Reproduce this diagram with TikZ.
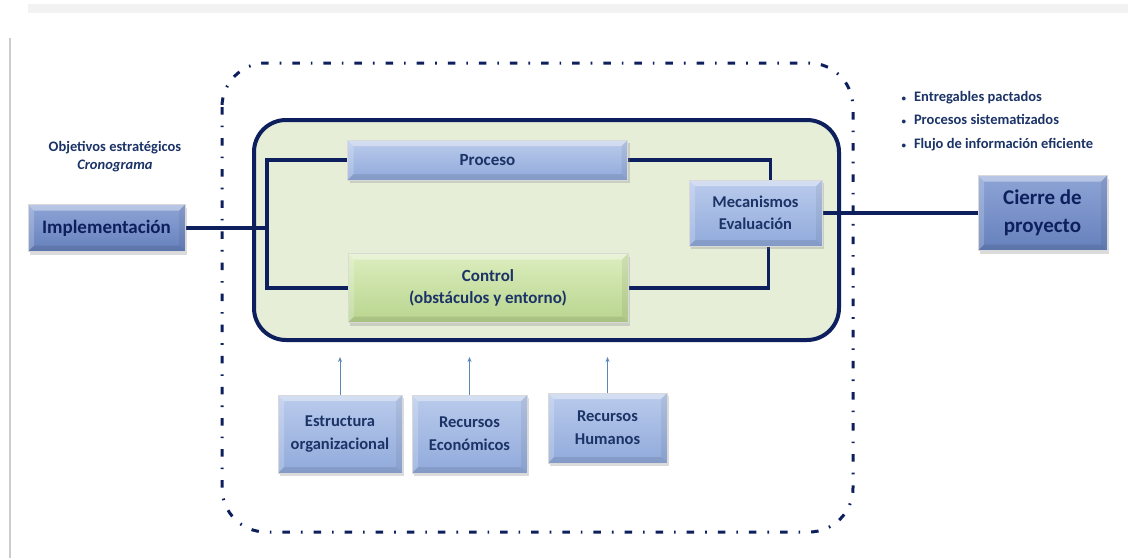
\documentclass[tikz,border=0pt]{standalone}
\usepackage{fontspec}
\setmainfont{Carlito}
\usetikzlibrary{shadows,arrows.meta,backgrounds}

\pgfdeclarelayer{bottom}
\pgfsetlayers{bottom,background,main}

\definecolor{navy}{HTML}{0E1F5E}
\definecolor{txtnavy}{HTML}{1B3366}
\definecolor{bluetop}{HTML}{BACBEC}
\definecolor{bluebot}{HTML}{91AADB}
\definecolor{darktop}{HTML}{8EA4D6}
\definecolor{darkbot}{HTML}{6580BC}
\definecolor{greentop}{HTML}{DCEDBE}
\definecolor{greenbot}{HTML}{B8D58E}
\definecolor{panel}{HTML}{E6EED8}
\definecolor{thinarrow}{HTML}{5B87B8}

\tikzset{
  bevel/.style={path picture={
    \fill[white,opacity=0.38]
      (path picture bounding box.north west) -- (path picture bounding box.north east)
      -- ([shift={(-6pt,-6pt)}]path picture bounding box.north east)
      -- ([shift={(6pt,-6pt)}]path picture bounding box.north west) -- cycle;
    \fill[white,opacity=0.2]
      (path picture bounding box.north west) -- (path picture bounding box.south west)
      -- ([shift={(6pt,6pt)}]path picture bounding box.south west)
      -- ([shift={(6pt,-6pt)}]path picture bounding box.north west) -- cycle;
    \fill[black,opacity=0.09]
      (path picture bounding box.south west) -- (path picture bounding box.south east)
      -- ([shift={(-6pt,6pt)}]path picture bounding box.south east)
      -- ([shift={(6pt,6pt)}]path picture bounding box.south west) -- cycle;
    \fill[black,opacity=0.06]
      (path picture bounding box.north east) -- (path picture bounding box.south east)
      -- ([shift={(-6pt,6pt)}]path picture bounding box.south east)
      -- ([shift={(-6pt,-6pt)}]path picture bounding box.north east) -- cycle;
  }},
  boxbase/.style={bevel, draw=white!70!gray, line width=0.4pt, align=center,
    text=txtnavy, font=\bfseries, inner sep=2pt,
    drop shadow={shadow xshift=2pt, shadow yshift=-3pt, opacity=0.28, fill=gray}},
  bluebox/.style={boxbase, top color=bluetop, bottom color=bluebot},
  darkbox/.style={boxbase, top color=darktop, bottom color=darkbot, text=navy},
  greenbox/.style={boxbase, top color=greentop, bottom color=greenbot},
  conn/.style={draw=navy, line width=3.8pt},
  feed/.style={draw=thinarrow, line width=0.9pt, -{Stealth[length=5pt,width=4pt]}},
  note/.style={text=txtnavy, font=\bfseries\fontsize{14.5}{18}\selectfont, align=center},
}

\begin{document}
\begin{tikzpicture}[x=1pt,y=-1pt]
  \useasboundingbox (0,0) rectangle (1128,558);
  \begin{pgfonlayer}{bottom}
    \fill[white] (0,0) rectangle (1128,558);
    % faint page frame
    \fill[black!5] (28,4) rectangle (1128,13);
    \draw[black!20, line width=2pt] (10,38) -- (10,558);
    % outer dash-dotted boundary
    \draw[navy, line width=3pt, rounded corners=44,
          dash pattern=on 7.5pt off 11pt on 1.6pt off 11pt]
      (222,63) rectangle (853,532);
    % inner panel
    \draw[navy, line width=4pt, fill=panel, rounded corners=32]
      (254,120) rectangle (839,340);
  \end{pgfonlayer}

  % boxes
  \node[darkbox, minimum width=157pt, minimum height=47pt,
        font=\bfseries\fontsize{19}{22}\selectfont] (impl) at (106.5,228) {Implementación};
  \node[bluebox, minimum width=280pt, minimum height=40pt,
        font=\bfseries\fontsize{17}{20}\selectfont] (proc) at (487.5,160) {Proceso};
  \node[greenbox, minimum width=280pt, minimum height=69pt,
        font=\bfseries\fontsize{17}{22}\selectfont] (ctrl) at (488,288) {Control\\(obstáculos y entorno)};
  \node[bluebox, minimum width=133pt, minimum height=66pt,
        font=\bfseries\fontsize{16.5}{22}\selectfont] (mec) at (755.5,213) {Mecanismos\\Evaluación};
  \node[darkbox, minimum width=129pt, minimum height=75pt,
        font=\bfseries\fontsize{21}{28}\selectfont] (cierre) at (1042.5,213) {Cierre de\\proyecto};

  \node[bluebox, minimum width=124pt, minimum height=78pt,
        font=\bfseries\fontsize{16.5}{23}\selectfont] (est) at (340,434) {Estructura\\organizacional};
  \node[bluebox, minimum width=115pt, minimum height=78pt,
        font=\bfseries\fontsize{16.5}{23}\selectfont] (eco) at (469.5,434) {Recursos\\Económicos};
  \node[bluebox, minimum width=119pt, minimum height=70pt,
        font=\bfseries\fontsize{16.5}{23}\selectfont] (hum) at (607.5,428) {Recursos\\Humanos};

  % junction on the left branch
  \coordinate (jl) at (267,228);

  % connectors, kept behind the boxes
  \begin{pgfonlayer}{background}
    \draw[conn] (impl.east) -- (jl);
    \draw[conn] (proc.west) -| (jl) |- (ctrl.west);
    \draw[conn] (proc.east) -| ([xshift=15pt]mec.north);
    \draw[conn] (ctrl.west -| ctrl.east) -| ([xshift=13pt]mec.south);
    \draw[conn] (mec.east) -- (cierre.west);
  \end{pgfonlayer}

  % resource arrows
  \coordinate (t1) at (340,357);
  \coordinate (t2) at (469.5,357);
  \coordinate (t3) at (607.5,357);
  \draw[feed] (est.north) -- (t1);
  \draw[feed] (eco.north) -- (t2);
  \draw[feed] (hum.north) -- (t3);

  % annotations
  \node[note] (obj) at (115,157) {Objetivos estratégicos\\\itshape Cronograma};
  \node[note, align=left, anchor=west, font=\bfseries\fontsize{14.5}{23.5}\selectfont] (res) at (898,121) {%
    {\fontsize{9}{9}\selectfont\textbullet}\hspace{8pt}Entregables pactados\\
    {\fontsize{9}{9}\selectfont\textbullet}\hspace{8pt}Procesos sistematizados\\
    {\fontsize{9}{9}\selectfont\textbullet}\hspace{8pt}Flujo de información eficiente};
\end{tikzpicture}
\end{document}
